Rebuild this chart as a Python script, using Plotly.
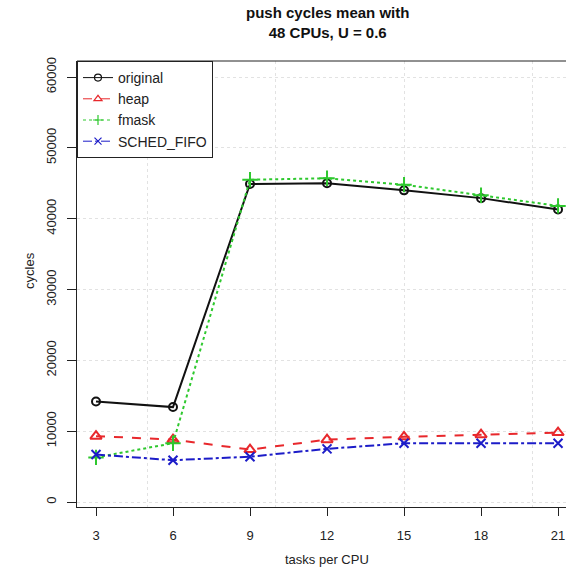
import plotly.graph_objects as go

# Mean push cycles per number of tasks per CPU (48 CPUs, U = 0.6)
tasks_per_cpu = [3, 6, 9, 12, 15, 18, 21]
original = [14200, 13400, 44900, 45000, 44000, 42900, 41300]
heap = [9300, 8800, 7400, 8800, 9200, 9500, 9800]
fmask = [6300, 8300, 45500, 45700, 44800, 43300, 41800]
sched_fifo = [6700, 5900, 6400, 7500, 8300, 8300, 8300]

x_ticks = [3, 6, 9, 12, 15, 18, 21]
y_ticks = [0, 10000, 20000, 30000, 40000, 50000, 60000]
y_tick_labels = ["0", "10000", "20000", "30000", "40000", "50000", "60000"]

FONT = "Liberation Sans, Arial, Helvetica, sans-serif"

series = [
    ("original", original, "#111111", "solid", "circle-open", 8),
    ("heap", heap, "#e8282c", "dash", "triangle-up-open", 10),
    ("fmask", fmask, "#2ec82e", "dot", "cross-thin-open", 11),
    ("SCHED_FIFO", sched_fifo, "#1c1cc8", "dashdot", "x-thin-open", 9),
]

fig = go.Figure()
for name, vals, color, dash, symbol, size in series:
    fig.add_trace(go.Scatter(
        x=tasks_per_cpu, y=vals, name=name, mode="lines+markers",
        line=dict(color=color, width=2, dash=dash),
        marker=dict(symbol=symbol, size=size, color=color,
                    line=dict(color=color, width=2)),
        cliponaxis=False, showlegend=False, legendgroup=name,
    ))

# Legend entries with thin lines and small symbols
for name, vals, color, dash, symbol, size in series:
    fig.add_trace(go.Scatter(
        x=[None], y=[None], name=name, mode="lines+markers",
        line=dict(color=color, width=1, dash=dash),
        marker=dict(symbol=symbol, size=7, color=color,
                    line=dict(color=color, width=1.2)),
        showlegend=True, legendgroup=name,
    ))

fig.update_layout(
    width=566, height=578,
    margin=dict(l=77, r=0, t=61, b=71),
    paper_bgcolor="white", plot_bgcolor="white",
    font=dict(family=FONT, size=13, color="#222222"),
    showlegend=True,
    legend=dict(
        x=0, y=1, xanchor="left", yanchor="top",
        bordercolor="#222222", borderwidth=1, bgcolor="white",
        font=dict(family=FONT, size=14, color="#222222"),
        tracegroupgap=0, itemwidth=30,
    ),
    xaxis=dict(
        range=[2.26, 21.31], tickmode="array", tickvals=x_ticks,
        ticks="outside", ticklen=8, tickcolor="#222222", tickwidth=1,
        ticklabelstandoff=8,
        showline=True, linecolor="#222222", linewidth=1, mirror=False,
        showgrid=False, zeroline=False,
        minor=dict(tick0=0, dtick=5, showgrid=True, gridcolor="#e2e2e2",
                   griddash="dot", gridwidth=1, ticks=""),
    ),
    yaxis=dict(
        range=[-706, 62260], tickmode="array", tickvals=y_ticks,
        ticktext=y_tick_labels, tickangle=-90,
        ticks="outside", ticklen=9, tickcolor="#222222", tickwidth=1,
        ticklabelstandoff=6,
        showline=True, linecolor="#222222", linewidth=1,
        showgrid=True, gridcolor="#e2e2e2", griddash="dot", gridwidth=1,
        zeroline=False,
    ),
    annotations=[
        dict(text="<b>push cycles mean with<br>48 CPUs, U = 0.6</b>",
             x=12, xref="x", y=1 + 38 / 446, yref="paper", yanchor="middle",
             showarrow=False, font=dict(family=FONT, size=15, color="#111111")),
        dict(text="tasks per CPU", x=12, xref="x", y=-0.14, yref="paper",
             showarrow=False, font=dict(family=FONT, size=13, color="#222222")),
        dict(text="cycles", x=-0.117, xref="paper", y=0.53, yref="paper",
             textangle=-90, showarrow=False,
             font=dict(family=FONT, size=13, color="#222222")),
    ],
    shapes=[
        # top edge of the plot frame
        dict(type="line", xref="paper", yref="paper", x0=0, x1=1, y0=1, y1=1,
             line=dict(color="#222222", width=1)),
    ],
)

fig.write_html("out.html")
